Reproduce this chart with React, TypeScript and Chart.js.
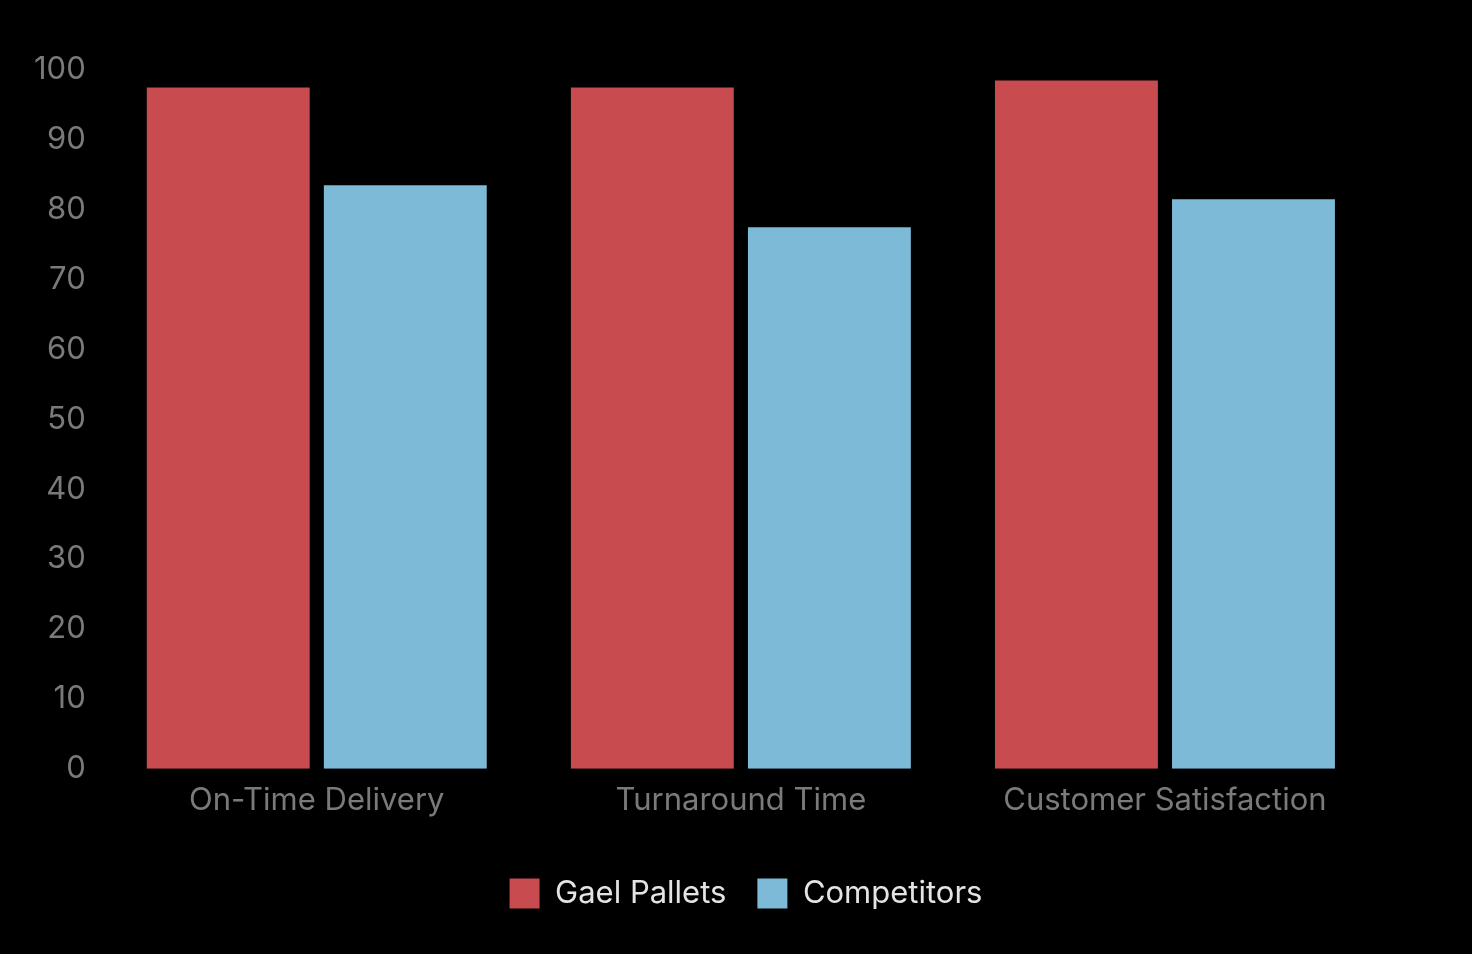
import React, { useEffect, useRef } from "react";
import { Chart, registerables } from "chart.js";

Chart.register(...registerables);

const categories = ["On-Time Delivery", "Turnaround Time", "Customer Satisfaction"];
const gaelPallets = [97.5, 97.5, 98.5];
const competitors = [83.5, 77.5, 81.5];
const yTicks = [0, 10, 20, 30, 40, 50, 60, 70, 80, 90, 100];

const FONT = "Inter, 'DejaVu Sans', sans-serif";

const shiftLegend = {
  id: "shiftLegend",
  afterLayout(chart: any) {
    const lg = chart.legend;
    if (lg) {
      lg.left += 46;
      lg.right += 46;
    }
  },
};

export default function App() {
  const ref = useRef<HTMLCanvasElement | null>(null);

  useEffect(() => {
    document.body.style.background = "#000";
    if (!ref.current) return;
    const chart = new Chart(ref.current, {
      type: "bar",
      data: {
        labels: categories,
        datasets: [
          {
            label: "Gael Pallets",
            data: gaelPallets,
            backgroundColor: "#c84b50",
            borderWidth: 0,
            barPercentage: 0.92,
            categoryPercentage: 0.835,
          },
          {
            label: "Competitors",
            data: competitors,
            backgroundColor: "#7dbad7",
            borderWidth: 0,
            barPercentage: 0.92,
            categoryPercentage: 0.835,
          },
        ],
      },
      options: {
        animation: false,
        responsive: true,
        maintainAspectRatio: false,
        layout: { padding: { top: 62, right: 87, left: 15, bottom: 27 } },
        plugins: {
          legend: {
            position: "bottom",
            labels: {
              color: "#e4e4e4",
              font: { family: FONT, size: 31 },
              boxWidth: 30,
              boxHeight: 30,
              padding: 31,
            },
          },
          tooltip: { enabled: false },
        },
        scales: {
          x: {
            grid: { display: false },
            border: { display: false },
            ticks: { color: "#7a7a7a", font: { family: FONT, size: 31 }, padding: 5 },
            afterFit: (scale: any) => {
              scale.height += 23;
            },
          },
          y: {
            min: 0,
            max: 100,
            afterBuildTicks: (axis: any) => {
              axis.ticks = yTicks.map((v) => ({ value: v }));
            },
            grid: { display: false },
            border: { display: false },
            ticks: { color: "#7a7a7a", font: { family: FONT, size: 31 }, padding: 11 },
          },
        },
      },
      plugins: [shiftLegend],
    });
    return () => chart.destroy();
  }, []);

  return (
    <div style={{ position: "relative", width: "100%", height: 938 }}>
      <canvas ref={ref} />
    </div>
  );
}
